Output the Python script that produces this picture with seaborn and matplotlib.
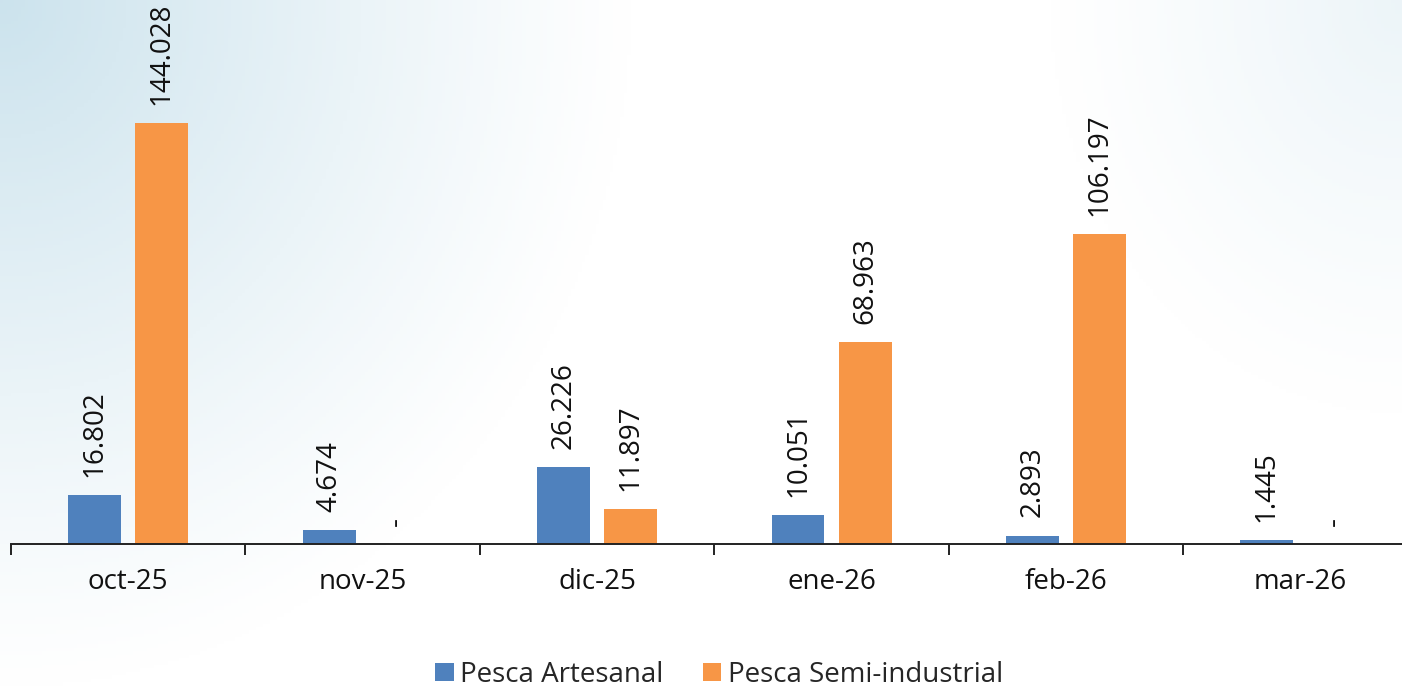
import numpy as np
import pandas as pd
import matplotlib
matplotlib.use("Agg")
import matplotlib.pyplot as plt
import seaborn as sns

months = ["oct-25", "nov-25", "dic-25", "ene-26", "feb-26", "mar-26"]
artesanal = [16.802, 4.674, 26.226, 10.051, 2.893, 1.445]
semi_industrial = [144.028, 0.0, 11.897, 68.963, 106.197, 0.0]
series_names = ["Pesca Artesanal", "Pesca Semi-industrial"]
colors = ["#4F81BD", "#F79646"]

df = pd.concat(
    [
        pd.DataFrame({"mes": months, "valor": artesanal, "serie": series_names[0]}),
        pd.DataFrame({"mes": months, "valor": semi_industrial, "serie": series_names[1]}),
    ],
    ignore_index=True,
)

sns.set_theme(style="white")
plt.rcParams["font.family"] = ["Open Sans", "DejaVu Sans"]

W, H = 1402, 689
fig = plt.figure(figsize=(W / 100, H / 100), dpi=100)

# soft blue background wash (top-left and top-right corners)
bg = fig.add_axes([0, 0, 1, 1], zorder=-5)
xx, yy = np.meshgrid(np.linspace(0, 1, 400), np.linspace(0, 1, 200))
t1 = np.clip(1 - np.sqrt((xx / 0.45) ** 2 + (yy / 1.0) ** 2), 0, 1)
t2 = np.clip(1 - np.sqrt(((1 - xx) / 0.25) ** 2 + (yy / 0.6) ** 2), 0, 1) * 0.4
t = np.clip(t1 + t2, 0, 1) ** 1.1
blue = np.array([0.80, 0.89, 0.93])
img = (1 - t[..., None]) * np.ones(3) + t[..., None] * blue
bg.imshow(img, aspect="auto", extent=[0, 1, 1, 0])
bg.set_axis_off()

ax = fig.add_axes([11 / W, 145 / H, 1406.6 / W, 544 / H])
ax.set_facecolor("none")

sns.barplot(
    data=df, x="mes", y="valor", hue="serie", palette=colors,
    width=0.572, gap=0.21, saturation=1, ax=ax, errorbar=None, linewidth=0,
)

handles, labels = ax.get_legend_handles_labels()
ax.get_legend().remove()

for cont in ax.containers:
    labs = [f"{v:.3f}" if v > 0 else "-" for v in cont.datavalues]
    ax.bar_label(cont, labels=labs, rotation=90, padding=13, fontsize=20, color="#111111")

ax.set_xlim(-0.5, 5.5)
ax.set_ylim(0, 186.1)
ax.set_xlabel("")
ax.set_ylabel("")
ax.set_yticks([])
for s in ["top", "right", "left"]:
    ax.spines[s].set_visible(False)
ax.spines["bottom"].set_color("#222222")
ax.spines["bottom"].set_linewidth(1.4)

ax.set_xticks(np.arange(-0.5, 6, 1), minor=True)
ax.tick_params(axis="x", which="minor", bottom=True, length=8, width=1.4, color="#222222", direction="out")
ax.tick_params(axis="x", which="major", length=0, pad=17, labelsize=20, labelcolor="#111111")

fig.legend(
    handles, labels, loc="lower center", bbox_to_anchor=(0.513, -0.036),
    ncol=2, frameon=False, fontsize=20, handlelength=0.65, handleheight=0.65,
    handletextpad=0.25, columnspacing=1.4,
)

fig.savefig("out.png", dpi=100)
